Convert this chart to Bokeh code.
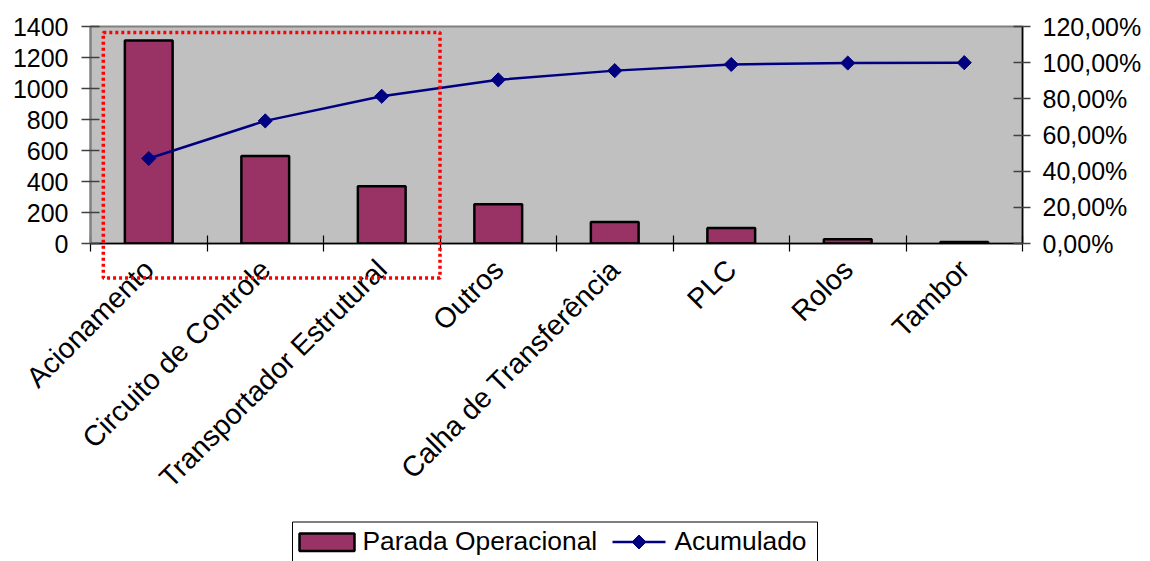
import math

from bokeh.core.properties import value
from bokeh.embed import file_html
from bokeh.models import ColumnDataSource, FixedTicker, LinearAxis, Range1d
from bokeh.plotting import figure
from bokeh.resources import INLINE

categories = ["Acionamento", "Circuito de Controle", "Transportador Estrutural",
              "Outros", "Calha de Transferência", "PLC", "Rolos", "Tambor"]
parada = [1310, 565, 370, 253, 139, 100, 27, 10]
acumulado = [47.0, 67.8, 81.4, 90.5, 95.6, 99.0, 99.8, 100.0]

left_ticks = [0, 200, 400, 600, 800, 1000, 1200, 1400]
right_ticks = [0, 20, 40, 60, 80, 100, 120]
right_labels = ["0,00%", "20,00%", "40,00%", "60,00%", "80,00%", "100,00%", "120,00%"]
series_names = ["Parada Operacional", "Acumulado"]
highlight_count = 3  # first categories framed by the dotted box

FONT = "Liberation Sans"
FS = "25px"
BAR_STYLE = dict(fill_color="#993366", line_color="black", line_width=2.5)
LINE_STYLE = dict(line_color="#000080", line_width=2.5)
MARK_STYLE = dict(marker="square", angle=math.pi / 4, size=10,
                  fill_color="#000080", line_color="#000080")

W, H = 1150, 561
LEFT, RIGHT, TOP, BOTTOM = 90, 128, 26, 318  # borders around the plot frame

n = len(categories)
centers = [i + 0.5 for i in range(n)]  # each category occupies one unit slot
bounds = list(range(n + 1))
src = ColumnDataSource(dict(x=centers, cat=categories, parada=parada, acum=acumulado))

p = figure(width=W, height=H, output_backend="svg", toolbar_location=None,
           x_range=Range1d(0, n), y_range=Range1d(0, 1400), x_axis_location=None,
           min_border_left=LEFT, min_border_right=RIGHT, min_border_top=TOP,
           min_border_bottom=BOTTOM)
# "px" ranges map one unit to one canvas pixel, used for the legend block
p.extra_x_ranges = {"px": Range1d(LEFT, W - RIGHT)}
p.extra_y_ranges = {"pct": Range1d(0, 120), "px": Range1d(H - BOTTOM, TOP)}
p.background_fill_color = "#C0C0C0"
p.border_fill_color = "white"
p.outline_line_color = "#808080"
p.outline_line_width = 2
p.grid.visible = False

# left value axis
ya = p.yaxis[0]
ya.ticker = FixedTicker(ticks=left_ticks)
ya.minor_tick_line_color = None
ya.major_tick_in = 9
ya.major_tick_out = 9
ya.axis_line_color = "#808080"
ya.axis_line_width = 2
ya.major_tick_line_color = "#404040"
ya.major_tick_line_width = 1.5
ya.major_label_text_font = FONT
ya.major_label_text_font_size = FS
ya.major_label_text_color = "black"
ya.major_label_standoff = 13

# right percentage axis
ra = LinearAxis(y_range_name="pct", ticker=FixedTicker(ticks=right_ticks),
                major_label_overrides=dict(zip(right_ticks, right_labels)))
ra.minor_tick_line_color = None
ra.major_tick_in = 9
ra.major_tick_out = 8
ra.axis_line_color = "black"
ra.axis_line_width = 1.5
ra.major_tick_line_color = "#404040"
ra.major_tick_line_width = 1.5
ra.major_label_text_font = FONT
ra.major_label_text_font_size = FS
ra.major_label_text_color = "black"
ra.major_label_standoff = 12
p.add_layout(ra, "right")

# category axis: names at slot centres, tick marks at slot boundaries
ca = LinearAxis(ticker=FixedTicker(ticks=centers, minor_ticks=bounds),
                major_label_overrides=dict(zip(centers, categories)))
ca.axis_line_color = "black"
ca.axis_line_width = 1.5
ca.major_tick_line_color = None
ca.major_tick_in = 0
ca.major_tick_out = 0
ca.minor_tick_line_color = "black"
ca.minor_tick_line_width = 1.2
ca.minor_tick_in = 8
ca.minor_tick_out = 8
ca.major_label_orientation = math.pi / 4
ca.major_label_text_font = FONT
ca.major_label_text_font_size = "28.5px"
ca.major_label_text_color = "black"
ca.major_label_standoff = 13
p.add_layout(ca, "below")

p.vbar(x="x", top="parada", width=0.41, source=src, **BAR_STYLE)
p.line(x="x", y="acum", source=src, y_range_name="pct", **LINE_STYLE)
p.scatter(x="x", y="acum", source=src, y_range_name="pct", **MARK_STYLE)

# dotted frame around the leading categories, reaching below the axis
BOX_LEFT, BOX_TOP, BOX_BOTTOM = 0.11, 1361, -222
p.quad(left=[BOX_LEFT], right=[highlight_count], top=[BOX_TOP], bottom=[BOX_BOTTOM],
       fill_alpha=0, line_color="#FF0000", line_width=3.5, line_dash="3 3",
       level="overlay")

# legend block under the category names (pixel coordinates)
px = dict(x_range_name="px", y_range_name="px", level="overlay")
LG = dict(left=292, right=817, top=521.5, bottom=561, mid=541.5, text_y=540.5)
DIAMOND_X, DIAMOND_R = 638.5, 7
p.quad(left=[LG["left"]], right=[LG["right"]], top=[LG["top"]], bottom=[LG["bottom"]],
       fill_color="white", line_color="black", line_width=1, **px)
p.quad(left=[299], right=[354], top=[533], bottom=[550.5], **BAR_STYLE, **px)
p.line(x=[612, 665], y=[LG["mid"], LG["mid"]], **LINE_STYLE, **px)
p.patch(x=[DIAMOND_X - DIAMOND_R, DIAMOND_X, DIAMOND_X + DIAMOND_R, DIAMOND_X],
        y=[LG["mid"], LG["mid"] - DIAMOND_R, LG["mid"], LG["mid"] + DIAMOND_R],
        fill_color="#000080", line_color="#000080", line_width=1, **px)
p.text(x=[362, 674], y=[LG["text_y"], LG["text_y"]], text=series_names,
       text_font=value(FONT), text_font_size="26.4px", text_color="black",
       text_align="left", text_baseline="middle", **px)

open("out.html", "w").write(file_html(p, INLINE))
